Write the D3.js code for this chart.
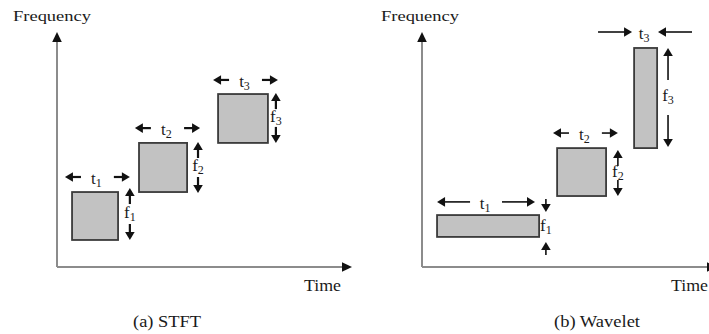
<!DOCTYPE html>
<html>
<head>
<meta charset="utf-8">
<script src="https://cdn.jsdelivr.net/npm/d3@7"></script>
<style>
  html, body { margin: 0; padding: 0; background: #fff; }
  svg { display: block; }
  text { font-family: "Liberation Serif", "Times New Roman", serif; fill: #1a1a1a; }
</style>
</head>
<body>
<script>
// Time–frequency tiling of the STFT versus the wavelet transform.
// Units: time and frequency on a 0–10 scale for each panel.

const tileIndex = ["1", "2", "3"];

// STFT tiles: equal resolution everywhere
const stftTime = [[0.51, 2.07], [2.78, 4.41], [5.46, 7.15]];
const stftFreq = [[1.15, 3.19], [3.19, 5.28], [5.28, 7.36]];

// Wavelet tiles: wide in time at low frequency, narrow at high frequency
const waveletTime = [[0.51, 3.97], [4.58, 6.24], [7.19, 7.97]];
const waveletFreq = [[1.28, 2.21], [3.02, 5.06], [5.06, 9.32]];

// Dimension markers: [level, from, to]
// width marks sit at a frequency level and span a time interval,
// height marks sit at a time position and span a frequency interval
const stftWidthMarks = [[3.83, 0.27, 2.47], [5.91, 2.64, 4.85], [7.96, 5.29, 7.49]];
const stftHeightMarks = [[2.47, 1.15, 3.36], [4.78, 3.15, 5.32], [7.42, 5.28, 7.40]];
const waveletWidthMarks = [[2.77, 0.51, 3.83], [5.70, 4.44, 6.64], [10.0, 7.12, 8.00]];
const waveletHeightMarks = [[4.20, 1.06, 2.34], [6.64, 3.02, 4.98], [8.34, 5.11, 9.32]];

const axisTitles = ["Frequency", "Time"];
const panelCaptions = ["(a) STFT", "(b) Wavelet"];

const W = 709, H = 334;
const svg = d3.select("body").append("svg")
  .attr("width", W).attr("height", H)
  .attr("viewBox", `0 0 ${W} ${H}`);

svg.append("rect").attr("width", W).attr("height", H).attr("fill", "#fff");

const panels = [
  {
    x: d3.scaleLinear().domain([0, 10]).range([57, 352]),
    y: d3.scaleLinear().domain([0, 10]).range([267, 32]),
    time: stftTime, freq: stftFreq,
    widthMarks: stftWidthMarks, heightMarks: stftHeightMarks,
    widthInward: [false, false, false], heightInward: [false, false, false],
    widthStem: [16, 16, 16], heightStem: [16, 16, 16],
    stemWidth: 2.2,
    caption: panelCaptions[0], captionX: 167, captionLen: 68,
    freqLabelX: 52, timeLabelX: 304
  },
  {
    x: d3.scaleLinear().domain([0, 10]).range([422, 717]),
    y: d3.scaleLinear().domain([0, 10]).range([267, 32]),
    time: waveletTime, freq: waveletFreq,
    widthMarks: waveletWidthMarks, heightMarks: waveletHeightMarks,
    widthInward: [false, false, true], heightInward: [true, false, false],
    widthStem: [33, 16, 34], heightStem: [13, 16, 32],
    stemWidth: 1.6,
    caption: panelCaptions[1], captionX: 597, captionLen: 86,
    freqLabelX: 420, timeLabelX: 671
  }
];

// filled arrowhead with its tip at (tx, ty), pointing along (dx, dy)
function arrowHead(g, tx, ty, dx, dy, len, half, color) {
  const bx = tx - dx * len, by = ty - dy * len;
  const px = -dy, py = dx;
  g.append("path")
    .attr("d", `M${tx},${ty}L${bx + px * half},${by + py * half}L${bx - px * half},${by - py * half}Z`)
    .attr("fill", color);
}

// arrow ending at a tip, with a stem of the given length behind it
function arrow(g, tx, ty, dx, dy, stem, sw) {
  const head = 8, half = 4.8;
  g.append("line")
    .attr("x1", tx - dx * stem).attr("y1", ty - dy * stem)
    .attr("x2", tx - dx * (head - 1)).attr("y2", ty - dy * (head - 1))
    .attr("stroke", "#111").attr("stroke-width", sw);
  arrowHead(g, tx, ty, dx, dy, head, half, "#111");
}

panels.forEach(p => {
  const g = svg.append("g");
  const x = p.x, y = p.y;

  // axes
  const axisColor = "#8c8c8c";
  g.append("line")
    .attr("x1", x(0)).attr("y1", y(0)).attr("x2", x(10) - 8).attr("y2", y(0))
    .attr("stroke", axisColor).attr("stroke-width", 2);
  g.append("line")
    .attr("x1", x(0)).attr("y1", y(0)).attr("x2", x(0)).attr("y2", y(10) + 8)
    .attr("stroke", axisColor).attr("stroke-width", 2);
  arrowHead(g, x(10), y(0), 1, 0, 10, 4.8, "#111");
  arrowHead(g, x(0), y(10), 0, -1, 10, 4.8, "#111");

  // tiles
  g.selectAll("rect.tile")
    .data(d3.zip(p.time, p.freq))
    .join("rect")
    .attr("class", "tile")
    .attr("x", d => x(d[0][0]))
    .attr("y", d => y(d[1][1]))
    .attr("width", d => x(d[0][1]) - x(d[0][0]))
    .attr("height", d => y(d[1][0]) - y(d[1][1]))
    .attr("fill", "#c2c2c2")
    .attr("stroke", "#3a3a3a")
    .attr("stroke-width", 1.8);

  // time-width markers
  p.widthMarks.forEach((m, i) => {
    const yy = y(m[0]), a = x(m[1]), b = x(m[2]);
    const s = p.widthStem[i];
    if (p.widthInward[i]) {
      arrow(g, a, yy, 1, 0, s, p.stemWidth);
      arrow(g, b, yy, -1, 0, s, p.stemWidth);
    } else {
      arrow(g, a, yy, -1, 0, s, p.stemWidth);
      arrow(g, b, yy, 1, 0, s, p.stemWidth);
    }
    const t = g.append("text")
      .attr("x", (a + b) / 2 - 1).attr("y", yy + 7)
      .attr("text-anchor", "middle")
      .attr("font-size", 17);
    t.append("tspan").text("t");
    t.append("tspan").attr("font-size", 12).attr("dy", 3).text(tileIndex[i]);
  });

  // frequency-height markers
  p.heightMarks.forEach((m, i) => {
    const xx = x(m[0]), a = y(m[1]), b = y(m[2]);
    const s = p.heightStem[i];
    if (p.heightInward[i]) {
      arrow(g, xx, a, 0, -1, s, p.stemWidth);
      arrow(g, xx, b, 0, 1, s, p.stemWidth);
    } else {
      arrow(g, xx, a, 0, 1, s, p.stemWidth);
      arrow(g, xx, b, 0, -1, s, p.stemWidth);
    }
    const t = g.append("text")
      .attr("x", xx).attr("y", (a + b) / 2 + 4)
      .attr("text-anchor", "middle")
      .attr("font-size", 17);
    t.append("tspan").text("f");
    t.append("tspan").attr("font-size", 12).attr("dy", 3).text(tileIndex[i]);
  });

  // axis titles and caption
  g.append("text")
    .attr("x", p.freqLabelX).attr("y", 21)
    .attr("text-anchor", "middle")
    .attr("font-size", 15)
    .attr("textLength", 78).attr("lengthAdjust", "spacingAndGlyphs")
    .text(axisTitles[0]);
  g.append("text")
    .attr("x", p.timeLabelX).attr("y", 291)
    .attr("font-size", 16)
    .attr("textLength", 37).attr("lengthAdjust", "spacingAndGlyphs")
    .text(axisTitles[1]);
  g.append("text")
    .attr("x", p.captionX).attr("y", 327)
    .attr("text-anchor", "middle")
    .attr("font-size", 16)
    .attr("textLength", p.captionLen).attr("lengthAdjust", "spacingAndGlyphs")
    .text(p.caption);
});
</script>
</body>
</html>
